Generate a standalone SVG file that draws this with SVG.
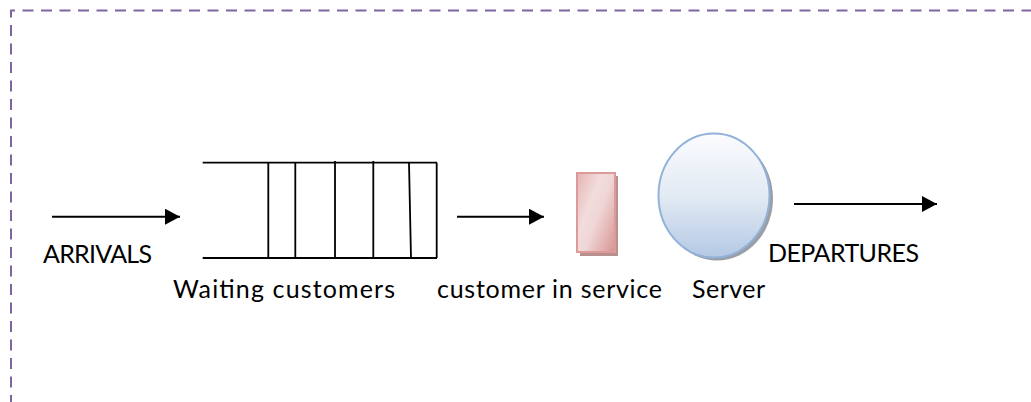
<svg xmlns="http://www.w3.org/2000/svg" width="1031" height="402" viewBox="0 0 1031 402">
<style>
.lbl{font-family:Lato,"Liberation Sans",sans-serif;font-size:25px;fill:#000}
.ln{stroke:#000;stroke-width:2;fill:none}
.q{stroke:#000;stroke-width:1.8;fill:none}
</style>
<defs>
<marker id="ah" viewBox="0 0 15 16" refX="15" refY="8" markerWidth="15" markerHeight="16" markerUnits="userSpaceOnUse" orient="auto">
<path d="M0,0 L15,8 L0,16 Z" fill="#000"/>
</marker>
<linearGradient id="gEll" x1="0" y1="0" x2="0" y2="1">
<stop offset="0" stop-color="#fbfcfe"/>
<stop offset="0.5" stop-color="#e2eaf4"/>
<stop offset="1" stop-color="#b4c9e4"/>
</linearGradient>
<linearGradient id="gRect" x1="0" y1="0.1" x2="1" y2="0.9">
<stop offset="0" stop-color="#e7b9b8"/>
<stop offset="0.35" stop-color="#f2dcdc"/>
<stop offset="0.55" stop-color="#f0d6d6"/>
<stop offset="1" stop-color="#d99a99"/>
</linearGradient>
</defs>
<rect width="1031" height="402" fill="#fff"/>
<path id="border" d="M11,402 V10.5 H1031" fill="none" stroke="#8064a2" stroke-width="2" stroke-dasharray="11 7.5" stroke-dashoffset="4"/>
<g id="queue">
<path class="q" d="M202.7,162.7 H437 M202.7,258 H437 M268.3,162.7 V258 M295.3,162.7 V258 M335,161 V258 M373.3,161 V258 M409,162.7 L411,258 M436.7,162.7 V258"/>
</g>
<g id="customer">
<rect x="580" y="176" width="38" height="80" fill="#b89090"/>
<rect x="577" y="173" width="38" height="79" fill="url(#gRect)" stroke="#dc9a98" stroke-width="2"/>
</g>
<g id="server">
<ellipse cx="717" cy="198.5" rx="56" ry="62" fill="#9a9ea6"/>
<ellipse cx="714" cy="195.5" rx="55.5" ry="62" fill="url(#gEll)" stroke="#92b2d9" stroke-width="2"/>
</g>
<g id="connectors">
<line class="ln" x1="52" y1="216.7" x2="180" y2="216.7" marker-end="url(#ah)"/>
<line class="ln" x1="457" y1="216.7" x2="544" y2="216.7" marker-end="url(#ah)"/>
<line class="ln" x1="794" y1="204" x2="937" y2="204" marker-end="url(#ah)"/>
</g>
<g id="labels">
<text class="lbl" x="43" y="263" textLength="109">ARRIVALS</text>
<text class="lbl" x="173" y="298" textLength="222">Waiting customers</text>
<text class="lbl" x="437" y="298" textLength="225">customer in service</text>
<text class="lbl" x="692" y="298" textLength="73">Server</text>
<text class="lbl" x="768" y="262" textLength="151">DEPARTURES</text>
</g>
</svg>
